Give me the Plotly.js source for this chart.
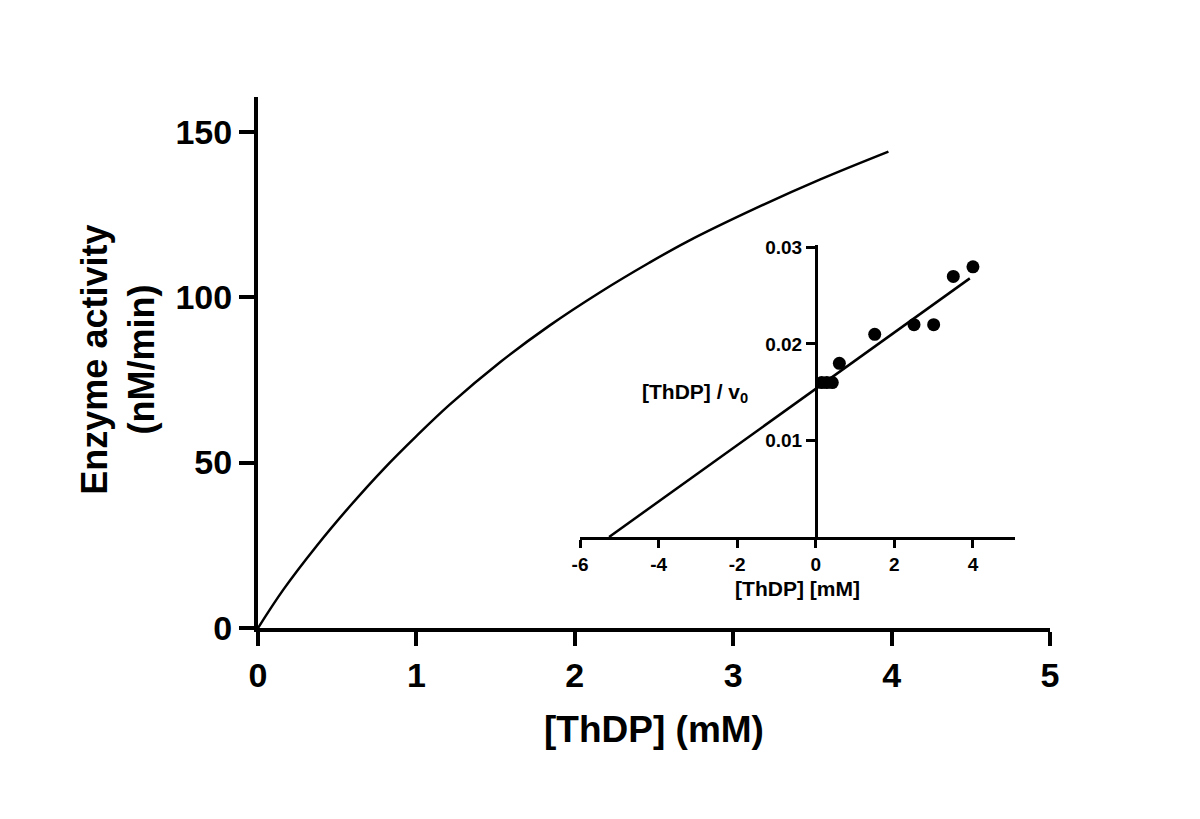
<!DOCTYPE html>
<html>
<head>
<meta charset="utf-8">
<script src="https://cdn.plot.ly/plotly-3.0.1.min.js"></script>
<style>html,body{margin:0;padding:0;background:#fff;}#chart{width:1200px;height:819px;}</style>
</head>
<body>
<div id="chart"></div>
<script>
// Main Michaelis-Menten curve
const curveX = [0, 0.16, 0.37, 0.58, 0.79, 1.0, 1.21, 1.53, 1.84, 2.16, 2.47, 2.71, 3.13, 3.55, 3.98];
const curveY = [0, 11.6, 24.8, 36.8, 47.9, 58.0, 67.5, 80.4, 91.4, 101.5, 110.4, 116.8, 126.6, 135.6, 144.0];

// Inset: Hanes-Woolf plot
const insetX = [0.15, 0.28, 0.42, 0.6, 1.5, 2.5, 3.0, 3.5, 4.0];
const insetY = [0.016, 0.016, 0.016, 0.018, 0.021, 0.022, 0.022, 0.027, 0.028];
const fitX = [-5.26, 3.92];
const fitY = [0, 0.0268];

const mainXTicks = [0, 1, 2, 3, 4, 5];
const mainYTicks = [0, 50, 100, 150];
const insetXTicks = [-6, -4, -2, 0, 2, 4];
const insetXTickText = ['-6', '-4', '-2', '0', '2', '4'];
const insetYTicks = [0.01, 0.02, 0.03];
const insetYTickText = ['0.01', '0.02', '0.03'];

const FONT = 'Liberation Sans, Arial, Helvetica, sans-serif';
const bold = (size) => ({family: FONT, size: size, color: '#000', weight: 'bold'});

const traces = [
  {x: curveX, y: curveY, mode: 'lines', line: {color: '#000', width: 2.5, shape: 'spline', smoothing: 1}, xaxis: 'x', yaxis: 'y', hoverinfo: 'skip'},
  {x: fitX, y: fitY, mode: 'lines', line: {color: '#000', width: 2.5}, xaxis: 'x2', yaxis: 'y2', hoverinfo: 'skip'},
  {x: insetX, y: insetY, mode: 'markers', marker: {color: '#000', size: 13}, xaxis: 'x2', yaxis: 'y2', hoverinfo: 'skip'}
];

const layout = {
  width: 1200, height: 819,
  margin: {l: 258, r: 150, t: 97, b: 191},
  paper_bgcolor: '#fff',
  plot_bgcolor: 'rgba(0,0,0,0)',
  showlegend: false,
  xaxis: {
    domain: [0, 1], range: [0, 5], anchor: 'y',
    showline: true, linewidth: 4, linecolor: '#000',
    ticks: 'outside', ticklen: 14, tickwidth: 4, tickcolor: '#000',
    tickvals: mainXTicks, tickfont: bold(34),
    showgrid: false, zeroline: false,
    title: {text: '[ThDP] (mM)', font: bold(37), standoff: 24}
  },
  yaxis: {
    domain: [0, 1], range: [0, 160.5], anchor: 'x',
    showline: true, linewidth: 4, linecolor: '#000',
    ticks: 'outside', ticklen: 15, tickwidth: 4, tickcolor: '#000',
    tickvals: mainYTicks, tickfont: bold(34),
    showgrid: false, zeroline: false
  },
  xaxis2: {
    domain: [0.4066, 0.9558], range: [-6, 5.07], anchor: 'y2',
    showline: true, linewidth: 3, linecolor: '#000',
    ticks: 'outside', ticklen: 8, tickwidth: 3, tickcolor: '#000',
    tickvals: insetXTicks, ticktext: insetXTickText, tickfont: bold(19),
    showgrid: false, zeroline: false,
    title: {text: '[ThDP] [mM]', font: bold(21), standoff: 8}
  },
  yaxis2: {
    domain: [0.1714, 0.7213], range: [0, 0.03026], anchor: 'free', position: 0.7045,
    showline: true, linewidth: 3, linecolor: '#000',
    ticks: 'outside', ticklen: 9, tickwidth: 3, tickcolor: '#000',
    tickvals: insetYTicks, ticktext: insetYTickText, tickfont: bold(19),
    showgrid: false, zeroline: false
  },
  annotations: [
    {text: 'Enzyme activity<br>(nM/min)', xref: 'paper', yref: 'paper', x: -0.177, y: 0.505,
     xanchor: 'center', yanchor: 'middle', textangle: -90, showarrow: false, font: bold(36)},
    {text: '[ThDP] / v<sub>0</sub>', xref: 'paper', yref: 'paper', x: 0.5518, y: 0.4426,
     xanchor: 'center', yanchor: 'middle', showarrow: false, font: bold(21)}
  ]
};

Plotly.newPlot('chart', traces, layout, {displayModeBar: false, staticPlot: true});
</script>
</body>
</html>
